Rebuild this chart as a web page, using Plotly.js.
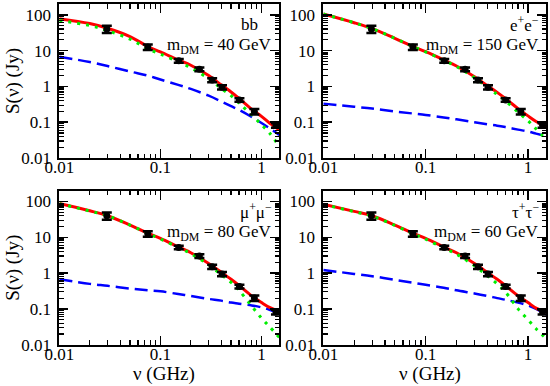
<!DOCTYPE html>
<html>
<head>
<meta charset="utf-8">
<script src="https://cdn.plot.ly/plotly-3.0.1.min.js"></script>
<style>html,body{margin:0;padding:0;background:#fff;}#chart{width:550px;height:386px;}</style>
</head>
<body>
<div id="chart"></div>
<script>
// Observed data (same in all panels)
const obsNu = [0.0295, 0.075, 0.152, 0.243, 0.325, 0.407, 0.605, 0.85, 1.39];
const obsS  = [40, 12.5, 5.2, 3.0, 1.5, 0.95, 0.42, 0.2, 0.082];
const obsErr = [9, 2.2, 0.6, 0.35, 0.2, 0.13, 0.05, 0.035, 0.012];

// Frequency grid for model curves (GHz)
const nuGrid = [0.01, 0.02, 0.03, 0.05, 0.075, 0.1, 0.15, 0.2, 0.3, 0.4, 0.5, 0.6, 0.8, 1.0, 1.2, 1.5];

// Panel 1: bb, 40 GeV
const total1 = [78, 57, 42, 24.6, 13, 9.2, 5.5, 3.9, 2.0, 1.1, 0.7, 0.46, 0.23, 0.145, 0.095, 0.062];
const dm1    = [69, 50, 36, 21, 11.2, 8.0, 4.9, 3.3, 1.65, 0.88, 0.55, 0.34, 0.16, 0.085, 0.05, 0.021];
const bg1    = [6.7, 4.8, 3.7, 2.6, 2.0, 1.56, 1.1, 0.85, 0.55, 0.38, 0.28, 0.22, 0.14, 0.095, 0.068, 0.044];

// Panel 2: e+e-, 150 GeV
const total2 = [105, 60, 41, 22, 13, 9.3, 5.5, 3.7, 1.85, 1.05, 0.68, 0.46, 0.24, 0.15, 0.105, 0.075];
const dm2    = [105, 60, 41, 22, 13, 9.2, 5.4, 3.6, 1.75, 0.95, 0.6, 0.4, 0.19, 0.11, 0.065, 0.033];
const bg2    = [0.33, 0.27, 0.24, 0.2, 0.175, 0.16, 0.135, 0.12, 0.1, 0.088, 0.08, 0.073, 0.062, 0.055, 0.048, 0.041];

// Panel 3: mu+mu-, 80 GeV
const total3 = [88, 55, 40, 22, 13, 9.3, 5.4, 3.7, 1.85, 1.05, 0.67, 0.45, 0.23, 0.15, 0.11, 0.085];
const dm3    = [87, 54, 40, 22, 12.8, 9.0, 5.2, 3.5, 1.7, 0.9, 0.55, 0.33, 0.12, 0.055, 0.032, 0.016];
const bg3    = [0.67, 0.5, 0.44, 0.37, 0.33, 0.31, 0.26, 0.23, 0.19, 0.17, 0.15, 0.14, 0.125, 0.11, 0.095, 0.075];

// Panel 4: tau+tau-, 60 GeV
const total4 = [84, 53, 40, 22, 13, 9.3, 5.4, 3.7, 1.85, 1.05, 0.67, 0.45, 0.23, 0.15, 0.105, 0.08];
const dm4    = [83, 52, 39, 21.5, 12.5, 8.9, 5.0, 3.4, 1.6, 0.85, 0.5, 0.3, 0.1, 0.05, 0.028, 0.015];
const bg4    = [1.22, 0.95, 0.82, 0.65, 0.54, 0.47, 0.39, 0.33, 0.27, 0.23, 0.2, 0.18, 0.15, 0.125, 0.1, 0.068];

const channelLabels = ['bb', 'e<sup>+</sup>e<sup>\u2212</sup>', '\u03bc<sup>+</sup>\u03bc<sup>\u2212</sup>', '\u03c4<sup>+</sup>\u03c4<sup>\u2212</sup>'];
const massLabels = [40, 150, 80, 60];

const xTickVals = [0.01, 0.1, 1];
const xTickText = ['0.01', '0.1', '1'];
const yTickVals = [0.01, 0.1, 1, 10, 100];
const yTickText = ['0.01', '0.1', '1', '10', '100'];

const panels = [
  {total: total1, dm: dm1, bg: bg1},
  {total: total2, dm: dm2, bg: bg2},
  {total: total3, dm: dm3, bg: bg3},
  {total: total4, dm: dm4, bg: bg4}
];

function minorVals(lo, hi) {
  const v = [];
  for (let e = lo; e <= hi; e++) {
    for (let m = 2; m <= 9; m++) v.push(m * Math.pow(10, e));
  }
  return v;
}

const W = 550, H = 386;
const colX = [[59.3, 279.3], [323.3, 546]];
const rowY = [[4, 158], [190.7, 344.7]];

const FONT = '"Liberation Serif", serif';
const traces = [];
const layout = {
  width: W, height: H,
  margin: {l: 0, r: 0, t: 0, b: 0},
  paper_bgcolor: '#fff', plot_bgcolor: '#fff',
  showlegend: false,
  font: {family: FONT, color: '#000'},
  annotations: []
};

panels.forEach((p, i) => {
  const n = i + 1;
  const xa = n === 1 ? 'x' : 'x' + n;
  const ya = n === 1 ? 'y' : 'y' + n;
  const col = i % 2, row = Math.floor(i / 2);
  const cx = colX[col], ry = rowY[row];

  traces.push({x: nuGrid, y: p.bg, xaxis: xa, yaxis: ya, mode: 'lines',
    line: {color: '#0000ff', width: 2.5, dash: '13px,6px', shape: 'spline'}, hoverinfo: 'skip'});
  traces.push({x: nuGrid, y: p.total, xaxis: xa, yaxis: ya, mode: 'lines',
    line: {color: '#ff0000', width: 3, shape: 'spline'}, hoverinfo: 'skip'});
  traces.push({x: nuGrid, y: p.dm, xaxis: xa, yaxis: ya, mode: 'lines',
    line: {color: '#00ee00', width: 3, dash: '3px,6px', shape: 'spline'}, hoverinfo: 'skip'});
  traces.push({x: obsNu, y: obsS, xaxis: xa, yaxis: ya, mode: 'markers',
    marker: {color: '#000', size: 7, symbol: 'circle'},
    error_y: {type: 'data', array: obsErr, color: '#000', thickness: 2.5, width: 5}, hoverinfo: 'skip'});

  const common = {
    type: 'log', ticks: 'inside', ticklen: 9, tickwidth: 1.5, tickcolor: '#000',
    showline: true, linewidth: 2, linecolor: '#000', mirror: 'allticks',
    showgrid: false, zeroline: false,
    tickfont: {family: FONT, size: 17, color: '#000'}
  };
  layout['xaxis' + (n === 1 ? '' : n)] = Object.assign({}, common, {
    domain: [cx[0] / W, cx[1] / W], anchor: ya,
    range: [-2, Math.log10(1.5)], ticklabelstandoff: -7,
    tickmode: 'array', tickvals: xTickVals, ticktext: xTickText,
    minor: {tickmode: 'array', tickvals: minorVals(-2, 0), ticks: 'inside', ticklen: 4.5, tickwidth: 1.2, tickcolor: '#000', showgrid: false}
  });
  layout['yaxis' + (n === 1 ? '' : n)] = Object.assign({}, common, {
    domain: [1 - ry[1] / H, 1 - ry[0] / H], anchor: xa,
    range: [-2, Math.log10(200)], ticklabelstandoff: 3,
    tickmode: 'array', tickvals: yTickVals, ticktext: yTickText,
    minor: {tickmode: 'array', tickvals: minorVals(-2, 2), ticks: 'inside', ticklen: 4.5, tickwidth: 1.2, tickcolor: '#000', showgrid: false}
  });

  // Channel and mass labels
  const topY = ry[0];
  layout.annotations.push({xref: 'paper', yref: 'paper', showarrow: false,
    x: (i === 0 ? 259 : cx[1] - 6) / W, xanchor: 'right',
    y: 1 - (topY + 20) / H, yanchor: 'middle', borderpad: 0,
    text: channelLabels[i], font: {family: FONT, size: 17, color: '#000'}});
  layout.annotations.push({xref: 'paper', yref: 'paper', showarrow: false,
    x: (cx[1] - 6) / W, xanchor: 'right',
    y: 1 - (topY + 42) / H, yanchor: 'middle', borderpad: 0,
    text: 'm<sub>DM</sub> = ' + massLabels[i] + ' GeV', font: {family: FONT, size: 17, color: '#000'}});

  // Axis titles
  if (col === 0) {
    layout.annotations.push({xref: 'paper', yref: 'paper', showarrow: false,
      x: 13 / W, xanchor: 'center', y: 1 - (ry[0] + ry[1]) / 2 / H, yanchor: 'middle',
      textangle: -90, text: 'S(\u03bd) (Jy)', font: {family: FONT, size: 19, color: '#000'}});
  }
  if (row === 1) {
    layout.annotations.push({xref: 'paper', yref: 'paper', showarrow: false,
      x: ((cx[0] + cx[1]) / 2 - 5) / W, xanchor: 'center', y: 1 - 374 / H, yanchor: 'middle',
      text: '\u03bd (GHz)', font: {family: FONT, size: 19, color: '#000'}});
  }
});

Plotly.newPlot('chart', traces, layout, {staticPlot: true, displayModeBar: false});
</script>
</body>
</html>
